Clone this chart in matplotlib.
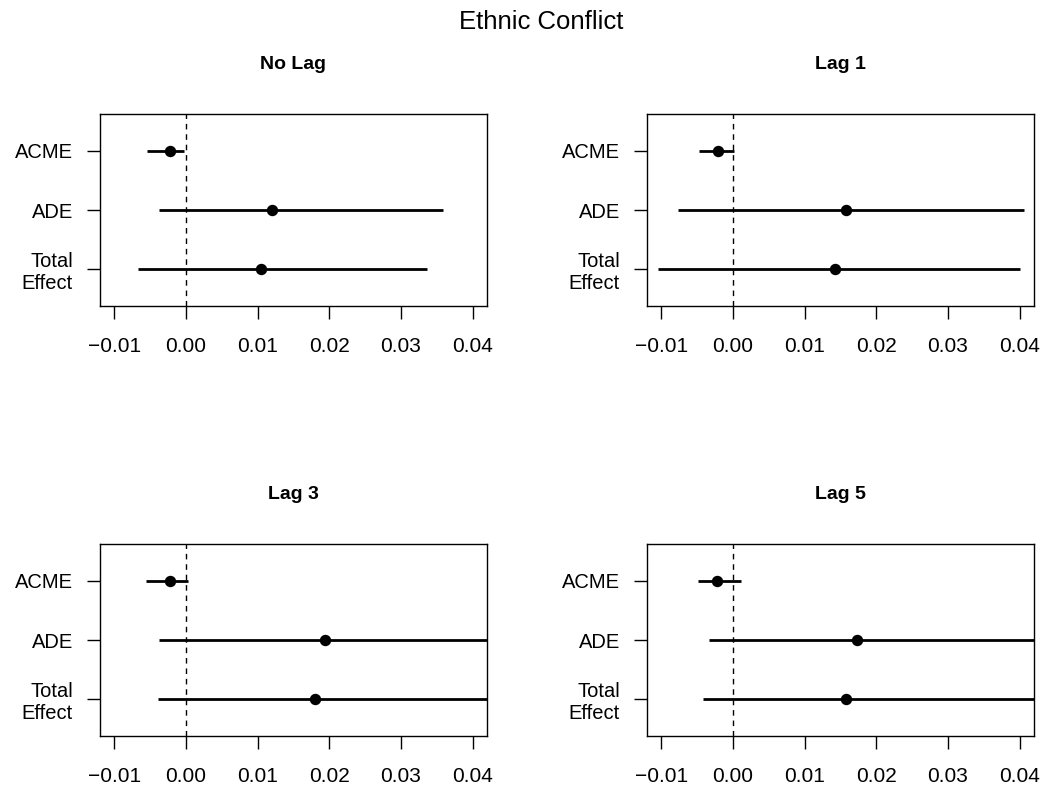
import matplotlib
matplotlib.use("Agg")
import matplotlib.pyplot as plt
import numpy as np

plt.rcParams['font.family'] = ['Liberation Sans', 'DejaVu Sans']

# Ethnic Conflict - mediation effects by lag
panels = ["No Lag", "Lag 1", "Lag 3", "Lag 5"]
effects = ["ACME", "ADE", "Total\nEffect"]

# point estimates (ACME, ADE, Total Effect)
est_nolag = [-0.0022, 0.0120, 0.0104]
est_lag1 = [-0.0021, 0.0158, 0.0142]
est_lag3 = [-0.0022, 0.0194, 0.0180]
est_lag5 = [-0.0022, 0.0173, 0.0158]

# confidence intervals, lower
lo_nolag = [-0.0054, -0.0038, -0.0067]
lo_lag1 = [-0.0048, -0.0077, -0.0105]
lo_lag3 = [-0.0056, -0.0037, -0.0039]
lo_lag5 = [-0.0049, -0.0034, -0.0042]

# confidence intervals, upper
hi_nolag = [-0.0003, 0.0359, 0.0336]
hi_lag1 = [0.0002, 0.0406, 0.0401]
hi_lag3 = [0.0003, 0.0520, 0.0500]
hi_lag5 = [0.0011, 0.0480, 0.0460]

xticks = [-0.01, 0.00, 0.01, 0.02, 0.03, 0.04]
xticklabels = ["\u22120.01", "0.00", "0.01", "0.02", "0.03", "0.04"]

ests = [est_nolag, est_lag1, est_lag3, est_lag5]
los = [lo_nolag, lo_lag1, lo_lag3, lo_lag5]
his = [hi_nolag, hi_lag1, hi_lag3, hi_lag5]

W, H = 1044, 789
fig = plt.figure(figsize=(W / 100, H / 100), dpi=100)

# axes boxes in pixels: left, top, right, bottom
boxes = [(100, 114, 487, 306), (647, 114, 1034, 306),
         (100, 544, 487, 736), (647, 544, 1034, 736)]

ypos = np.array([3, 2, 1])

for i in range(4):
    l, t, r, b = boxes[i]
    ax = fig.add_axes([l / W, 1 - b / H, (r - l) / W, (b - t) / H])
    for j in range(3):
        ax.plot([los[i][j], his[i][j]], [ypos[j], ypos[j]], color='black', lw=2,
                solid_capstyle='butt')
    ax.plot(ests[i], ypos, 'o', color='black', markersize=7.2)
    ax.axvline(0, color='black', lw=1, linestyle=(0, (4, 3.5)))
    ax.set_xlim(-0.012, 0.042)
    ax.set_ylim(0.38, 3.62)
    ax.set_xticks(xticks)
    ax.set_xticklabels(xticklabels, fontsize=15)
    ax.set_yticks(ypos)
    ax.set_yticklabels(effects, fontsize=14.5, multialignment='right')
    ax.tick_params(axis='both', length=9.1, width=1)
    ax.tick_params(axis='x', pad=13.5)
    ax.tick_params(axis='y', pad=10.5)
    for s in ax.spines.values():
        s.set_linewidth(1.0)
    ax.set_title(panels[i], fontsize=14, fontweight='bold', pad=32.4)

fig.text(541.5 / W, 1 - 29.3 / H, "Ethnic Conflict", fontsize=18.5,
         ha='center', va='baseline')

plt.savefig("out.png", dpi=100)
